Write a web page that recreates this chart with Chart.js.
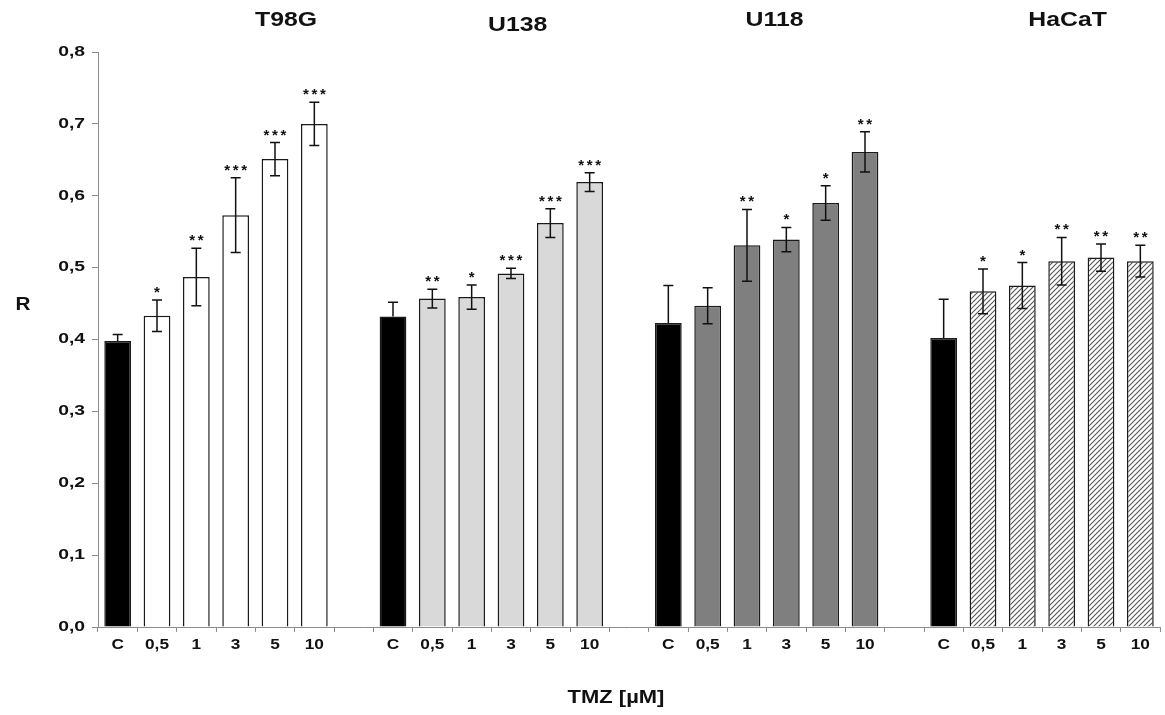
<!DOCTYPE html>
<html>
<head>
<meta charset="utf-8">
<script src="https://cdn.jsdelivr.net/npm/chart.js@4.4.1/dist/chart.umd.min.js"></script>
<style>
  html, body { margin: 0; padding: 0; background: #fff; }
  #wrap { width: 1165px; height: 715px; }
</style>
</head>
<body>
<div id="wrap"><canvas id="chart" width="1165" height="715"></canvas></div>
<script>
// data
const doses = ['C', '0,5', '1', '3', '5', '10'];
const groupNames = ['T98G', 'U138', 'U118', 'HaCaT'];

const t98gMeans  = [0.398, 0.433, 0.487, 0.573, 0.651, 0.700];
const t98gErrors = [0.009, 0.022, 0.040, 0.052, 0.023, 0.030];
const t98gStars  = ['', '*', '**', '***', '***', '***'];

const u138Means  = [0.432, 0.457, 0.459, 0.492, 0.562, 0.619];
const u138Errors = [0.020, 0.013, 0.017, 0.007, 0.020, 0.013];
const u138Stars  = ['', '**', '*', '***', '***', '***'];

const u118Means  = [0.423, 0.447, 0.531, 0.539, 0.590, 0.661];
const u118Errors = [0.052, 0.025, 0.050, 0.017, 0.024, 0.028];
const u118Stars  = ['', '', '**', '*', '*', '**'];

const hacatMeans  = [0.402, 0.467, 0.475, 0.509, 0.514, 0.509];
const hacatErrors = [0.054, 0.031, 0.032, 0.033, 0.019, 0.022];
const hacatStars  = ['', '*', '*', '**', '**', '**'];

const yTicks = [0, 0.1, 0.2, 0.3, 0.4, 0.5, 0.6, 0.7, 0.8];

const FONT = '"Liberation Sans", Arial, sans-serif';

// hatch pattern for HaCaT
function makeHatch() {
    const size = 5;
    const c = document.createElement('canvas');
    c.width = size; c.height = size;
    const g = c.getContext('2d');
    g.fillStyle = '#fff';
    g.fillRect(0, 0, size, size);
    g.strokeStyle = '#555';
    g.lineWidth = 1.1;
    g.beginPath();
    g.moveTo(0, size); g.lineTo(size, 0);
    g.moveTo(-1, 1); g.lineTo(1, -1);
    g.moveTo(size - 1, size + 1); g.lineTo(size + 1, size - 1);
    g.stroke();
    return g.createPattern(c, 'repeat');
}

const groupFills = ['#ffffff', '#d9d9d9', '#7f7f7f', makeHatch()];
const groupMeans = [t98gMeans, u138Means, u118Means, hacatMeans];
const groupErrors = [t98gErrors, u138Errors, u118Errors, hacatErrors];
const groupStars = [t98gStars, u138Stars, u118Stars, hacatStars];

// flatten into one category axis with an empty slot between groups
const labels = [], values = [], errors = [], stars = [], fills = [], isControl = [];
groupMeans.forEach((means, g) => {
    means.forEach((v, i) => {
        labels.push(doses[i]);
        values.push(v);
        errors.push(groupErrors[g][i]);
        stars.push(groupStars[g][i]);
        fills.push(i === 0 ? '#000000' : groupFills[g]);
        isControl.push(i === 0);
    });
    if (g < groupMeans.length - 1) {
        labels.push('');
        values.push(null);
        errors.push(null);
        stars.push('');
        fills.push('#ffffff');
        isControl.push(false);
    }
});

// text squeezed/stretched horizontally like the original figure
function wideText(ctx, text, x, y, sx, align) {
    ctx.save();
    ctx.translate(x, y);
    ctx.scale(sx, 1);
    ctx.textAlign = align;
    ctx.fillText(text, 0, 0);
    ctx.restore();
}

const errorBarPlugin = {
    id: 'errorBars',
    afterDatasetsDraw(chart) {
        const ctx = chart.ctx;
        const y = chart.scales.y;
        const meta = chart.getDatasetMeta(0);
        ctx.save();
        ctx.strokeStyle = '#111';
        ctx.lineWidth = 1.5;
        meta.data.forEach((bar, i) => {
            if (values[i] == null) return;
            const mid = y.getPixelForValue(values[i]);
            const top = y.getPixelForValue(values[i] + errors[i]);
            const bot = y.getPixelForValue(values[i] - errors[i]);
            ctx.beginPath();
            ctx.moveTo(bar.x - 5, top); ctx.lineTo(bar.x + 5, top);
            if (isControl[i]) {
                ctx.moveTo(bar.x, top); ctx.lineTo(bar.x, mid);
            } else {
                ctx.moveTo(bar.x, top); ctx.lineTo(bar.x, bot);
                ctx.moveTo(bar.x - 5, bot); ctx.lineTo(bar.x + 5, bot);
            }
            ctx.stroke();
            // significance stars
            const s = stars[i];
            if (s) {
                ctx.fillStyle = '#111';
                ctx.font = 'bold 15px ' + FONT;
                ctx.textAlign = 'center';
                ctx.textBaseline = 'alphabetic';
                const step = 8.5;
                for (let k = 0; k < s.length; k++) {
                    const sx = bar.x + (k - (s.length - 1) / 2) * step;
                    ctx.fillText('*', sx, top - 3);
                }
            }
        });
        ctx.restore();
    }
};

const textPlugin = {
    id: 'extraText',
    afterDraw(chart) {
        const ctx = chart.ctx;
        const x = chart.scales.x;
        const y = chart.scales.y;
        ctx.save();
        ctx.fillStyle = '#111';
        ctx.textBaseline = 'middle';

        // tick labels
        ctx.font = 'bold 14px ' + FONT;
        y.ticks.forEach(t => {
            wideText(ctx, t.value.toFixed(1).replace('.', ','), 85, y.getPixelForValue(t.value), 1.38, 'right');
        });
        ctx.font = 'bold 15px ' + FONT;
        labels.forEach((lab, i) => {
            if (lab) wideText(ctx, lab, x.getPixelForValue(i), 645, 1.15, 'center');
        });

        // group titles above each block of bars
        const titleShift = [1.78, 0.67, 0.2, 0.65];
        const titleY = [20, 25, 20, 20];
        ctx.font = 'bold 21px ' + FONT;
        groupNames.forEach((name, g) => {
            wideText(ctx, name, x.getPixelForValue(g * 7 + 2.5 + titleShift[g]), titleY[g], 1.18, 'center');
        });

        // axis titles
        ctx.font = 'bold 18px ' + FONT;
        wideText(ctx, 'R', 23, 305, 1.15, 'center');
        wideText(ctx, 'TMZ [µM]', 616, 698, 1.22, 'center');
        ctx.restore();
    }
};

new Chart(document.getElementById('chart').getContext('2d'), {
    type: 'bar',
    data: {
        labels: labels,
        datasets: [{
            data: values,
            backgroundColor: fills,
            borderColor: '#1a1a1a',
            borderWidth: 1.5,
            categoryPercentage: 1,
            barPercentage: 0.68
        }]
    },
    options: {
        responsive: false,
        animation: false,
        layout: { padding: { top: 52, right: 5, left: 0, bottom: 0 } },
        plugins: {
            legend: { display: false },
            tooltip: { enabled: false }
        },
        scales: {
            x: {
                afterFit: s => { s.height = 88; },
                border: { display: true, color: '#8c8c8c', width: 1 },
                grid: { drawOnChartArea: false, drawTicks: true, tickLength: 5, color: '#8c8c8c', offset: true },
                ticks: { display: false, autoSkip: false }
            },
            y: {
                min: 0,
                max: 0.8,
                afterFit: s => { s.width = 98; },
                afterBuildTicks: s => { s.ticks = yTicks.map(v => ({ value: v })); },
                border: { display: true, color: '#8c8c8c', width: 1 },
                grid: { drawOnChartArea: false, drawTicks: true, tickLength: 6, color: '#8c8c8c' },
                ticks: { display: false }
            }
        }
    },
    plugins: [errorBarPlugin, textPlugin]
});
</script>
</body>
</html>
